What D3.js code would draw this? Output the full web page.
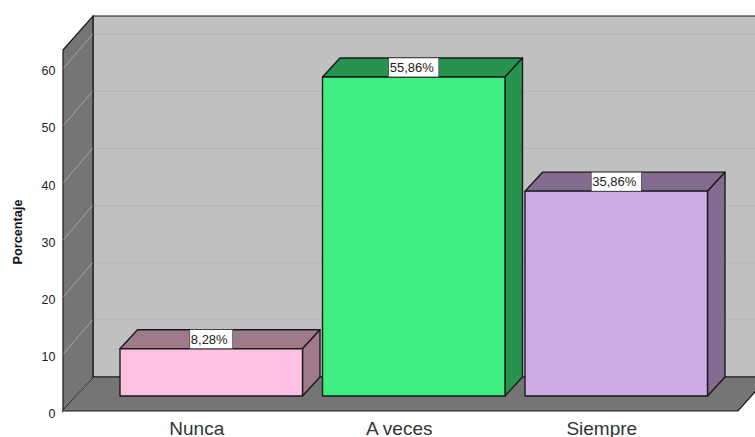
<!DOCTYPE html>
<html><head><meta charset="utf-8">
<script src="https://cdn.jsdelivr.net/npm/d3@7/dist/d3.min.js"></script>
<style>html,body{margin:0;padding:0;background:#fff}svg{display:block}text{font-family:"Liberation Sans",Arial,sans-serif}</style>
</head><body><svg id="c" width="755" height="437"></svg>
<script>
const categories = ["Nunca","A veces","Siempre"];
const values = [8.28,55.86,35.86];
const valueLabels = ["8,28%","55,86%","35,86%"];
const frontColors = ["#ffc0e3","#40ed80","#cfabe6"];
const sideColors = ["#9f7a8a","#28924f","#846c90"];
const yTicks = [0,10,20,30,40,50,60];

const svg = d3.select("#c");
const y = d3.scaleLinear().domain([0,63.2]).range([411,50]);
const x = d3.scaleBand().domain(categories).range([120,707.5]).paddingInner(0.0988);
const wall = {dx:30, dy:-34, left:63, right:738};
const barD = {dx:17.5, dy:-19, base:-15};
const stroke = "#1a1a1a";
const poly = pts => pts.map(p=>p.join(",")).join(" ");

svg.append("polygon").attr("points",poly([[wall.left+wall.dx,y(63.2)+wall.dy],[wall.right+wall.dx,y(63.2)+wall.dy],[wall.right+wall.dx,y(0)+wall.dy],[wall.left+wall.dx,y(0)+wall.dy]]))
  .attr("fill","#c0c0c0").attr("stroke",stroke).attr("stroke-width",1.2);
svg.append("polygon").attr("points",poly([[wall.left,y(63.2)],[wall.left+wall.dx,y(63.2)+wall.dy],[wall.left+wall.dx,y(0)+wall.dy],[wall.left,y(0)]]))
  .attr("fill","#757575").attr("stroke",stroke).attr("stroke-width",1.2);
svg.append("polygon").attr("points",poly([[wall.left,y(0)],[wall.left+wall.dx,y(0)+wall.dy],[wall.right+wall.dx,y(0)+wall.dy],[wall.right,y(0)]]))
  .attr("fill","#757575").attr("stroke",stroke).attr("stroke-width",1.2);

yTicks.forEach(t=>{
  if(t>0) svg.append("line").attr("x1",wall.left+wall.dx+1).attr("x2",wall.right+wall.dx).attr("y1",y(t)+wall.dy).attr("y2",y(t)+wall.dy).attr("stroke","#b4b4b4").attr("stroke-width",1);
  svg.append("line").attr("x1",wall.left+.5).attr("x2",wall.left+wall.dx-.5).attr("y1",y(t)).attr("y2",y(t)+wall.dy).attr("stroke",t>0?"#a6a6a6":"#909090").attr("stroke-width",1);
});

svg.selectAll(".yt").data(yTicks).join("text").attr("class","yt")
  .attr("x",55.5).attr("y",d=>y(d)+7).attr("text-anchor","end").attr("font-size",12.5).attr("fill","#222").text(d=>d);

svg.append("text").attr("transform","translate(22,232) rotate(-90)").attr("text-anchor","middle")
  .attr("font-size",12.7).attr("font-weight","bold").attr("fill","#111").text("Porcentaje");

categories.forEach((c,i)=>{
  const x0=x(c), x1=x0+x.bandwidth(), b=y(0)+barD.base, t=y(values[i])+barD.base, dx=barD.dx, dy=barD.dy;
  const g=svg.append("g").attr("stroke",stroke).attr("stroke-width",1.4).attr("stroke-linejoin","round");
  g.append("polygon").attr("points",poly([[x0,t],[x0+dx,t+dy],[x1+dx,t+dy],[x1,t]])).attr("fill",sideColors[i]);
  g.append("polygon").attr("points",poly([[x1,t],[x1+dx,t+dy],[x1+dx,b+dy],[x1,b]])).attr("fill",sideColors[i]);
  g.append("rect").attr("x",x0).attr("y",t).attr("width",x.bandwidth()).attr("height",b-t).attr("fill",frontColors[i]);
  const cx=(x0+x1)/2;
  const lbl=svg.append("text").attr("x",cx-2).attr("y",t-5).attr("text-anchor","middle").attr("font-size",13).attr("fill","#222").text(valueLabels[i]);
  const w=lbl.node().getComputedTextLength()+6;
  const box=svg.append("rect").attr("x",cx-w/2).attr("y",t+dy).attr("width",w).attr("height",-dy).attr("fill","#fff").attr("stroke","#333").attr("stroke-width",.6);
  lbl.raise();
  svg.append("text").attr("x",cx-14.5).attr("y",435).attr("text-anchor","middle").attr("font-size",19).attr("fill","#333").text(c);
});
</script></body></html>
